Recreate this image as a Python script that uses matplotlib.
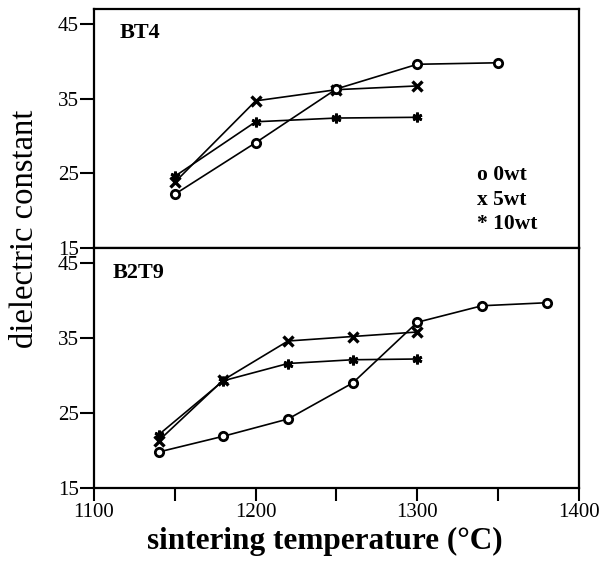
import matplotlib
matplotlib.use("Agg")
import matplotlib.pyplot as plt
from matplotlib.ticker import FixedLocator, FuncFormatter

plt.rcParams['font.family'] = ['Liberation Serif', 'DejaVu Serif']

# BT4 panel
bt4_o_x = [1150, 1200, 1250, 1300, 1350]
bt4_o_y = [22.2, 29.1, 36.3, 39.6, 39.8]
bt4_x_x = [1150, 1200, 1250, 1300]
bt4_x_y = [23.8, 34.7, 36.2, 36.7]
bt4_s_x = [1150, 1200, 1250, 1300]
bt4_s_y = [24.6, 31.9, 32.4, 32.5]

# B2T9 panel
b2_o_x = [1140, 1180, 1220, 1260, 1300, 1340, 1380]
b2_o_y = [19.8, 21.9, 24.2, 29.0, 37.1, 39.3, 39.7]
b2_x_x = [1140, 1180, 1220, 1260, 1300]
b2_x_y = [21.3, 29.4, 34.6, 35.2, 35.8]
b2_s_x = [1140, 1180, 1220, 1260, 1300]
b2_s_y = [22.1, 29.3, 31.6, 32.1, 32.2]

yticks = [15, 25, 35, 45]
xticks = [1100, 1150, 1200, 1250, 1300, 1350, 1400]
xlabels_at = [1100, 1200, 1300, 1400]
legend_lines = ["o 0wt", "x 5wt", "* 10wt"]

W, H = 603, 570
fig = plt.figure(figsize=(W / 100, H / 100), dpi=100)
left, right = 94 / W, 579 / W
ax1 = fig.add_axes([left, 1 - 248 / H, right - left, (248 - 9) / H])
ax2 = fig.add_axes([left, 1 - 488 / H, right - left, (488 - 248) / H])

def draw(ax, o, x, s):
    ax.plot(*s, color='black', lw=1.2, marker=(6, 2, 0), ms=7, mew=2.0, zorder=3)
    ax.plot(*x, color='black', lw=1.2, marker='x', ms=7.5, mew=2.4, zorder=3)
    ax.plot(*o, color='black', lw=1.2, marker='o', ms=6, mfc='white', mec='black', mew=2.0, zorder=4)

draw(ax1, (bt4_o_x, bt4_o_y), (bt4_x_x, bt4_x_y), (bt4_s_x, bt4_s_y))
draw(ax2, (b2_o_x, b2_o_y), (b2_x_x, b2_x_y), (b2_s_x, b2_s_y))

for ax in (ax1, ax2):
    ax.set_xlim(1100, 1400)
    ax.set_ylim(15, 47)
    ax.set_yticks(yticks)
    ax.tick_params(axis='y', direction='out', length=10, width=1.5, labelsize=15, pad=1)
    for sp in ax.spines.values():
        sp.set_linewidth(1.6)

ax1.tick_params(axis='x', bottom=False, labelbottom=False)
ax2.xaxis.set_major_locator(FixedLocator(xticks))
ax2.xaxis.set_major_formatter(FuncFormatter(lambda v, p: f"{int(v)}" if int(v) in xlabels_at else ""))
ax2.tick_params(axis='x', direction='out', length=9, width=1.5, labelsize=15, pad=2)

ax1.text(0.052, 0.90, "BT4", transform=ax1.transAxes, fontsize=16, fontweight='bold', va='center', ha='left')
ax2.text(0.039, 0.896, "B2T9", transform=ax2.transAxes, fontsize=16, fontweight='bold', va='center', ha='left')
for txt, yy in zip(legend_lines, [0.305, 0.20, 0.10]):
    ax1.text(0.79, yy, txt, transform=ax1.transAxes, fontsize=15.5, fontweight='bold', va='center', ha='left')

fig.text(25 / W, 1 - 229 / H, "dielectric constant", rotation=90, fontsize=23.5, va='center', ha='center')
fig.text(325 / W, 1 - 541 / H, "sintering temperature (°C)", fontsize=22.5, fontweight='bold', va='center', ha='center')

fig.savefig("out.png", dpi=100)
